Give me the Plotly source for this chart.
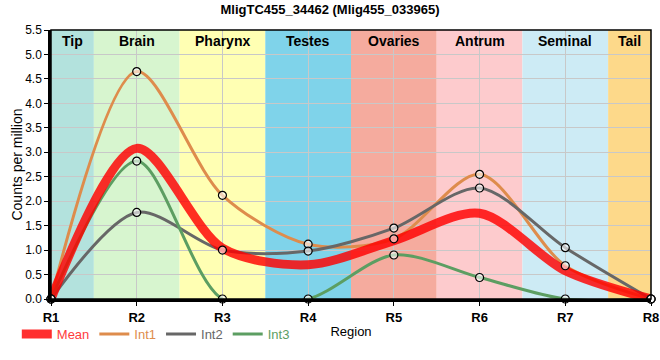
import plotly.graph_objects as go

regions = ["R1", "R2", "R3", "R4", "R5", "R6", "R7", "R8"]
int1 = [0, 4.65, 2.12, 1.12, 1.23, 2.55, 0.68, 0]
int2 = [0, 1.77, 1.00, 0.98, 1.45, 2.27, 1.05, 0]
int3 = [0, 2.82, 0, 0, 0.90, 0.44, 0, 0]
mean = [round((a + b + c) / 3, 3) for a, b, c in zip(int1, int2, int3)]

tissues = ["Tip", "Brain", "Pharynx", "Testes", "Ovaries", "Antrum", "Seminal", "Tail"]
tissue_start = [0, 0.5, 1.5, 2.5, 3.5, 4.5, 5.5, 6.5]
tissue_end = [0.5, 1.5, 2.5, 3.5, 4.5, 5.5, 6.5, 7]
tissue_colors = ["#b3e2dd", "#d7f5cf", "#ffffb3", "#7fd3ea", "#f5ab9e",
                 "#fdcbcd", "#cdebf5", "#fdd98a"]

FONT = "Liberation Sans, Arial, sans-serif"
c_mean = "rgba(255,0,0,0.82)"
c1 = "#de8c4c"
c2 = "#676767"
c3 = "#5c9e62"
SMOOTH = 0.85

fig = go.Figure()
series = [("Int1", int1, c1, 2), ("Int2", int2, c2, 3), ("Int3", int3, c3, 4)]
for name, ys, col, rank in series:
    fig.add_trace(go.Scatter(
        x=regions, y=ys, mode="lines",
        line=dict(color=col, width=3, shape="spline", smoothing=SMOOTH),
        name=f'<span style="color:{col}">{name}</span>', legendrank=rank))
fig.add_trace(go.Scatter(
    x=regions, y=mean, mode="lines",
    line=dict(color=c_mean, width=9, shape="spline", smoothing=SMOOTH),
    name='<span style="color:#ff3c3c">Mean</span>', legendrank=1))
for name, ys, col, rank in series:
    fig.add_trace(go.Scatter(
        x=regions, y=ys, mode="markers", showlegend=False,
        marker=dict(symbol="circle", size=8, color="rgba(255,255,255,0.6)",
                    line=dict(color="black", width=1.2)),
        cliponaxis=False))

shapes = []
annotations = []
for t, s, e, col in zip(tissues, tissue_start, tissue_end, tissue_colors):
    shapes.append(dict(type="rect", xref="x", yref="paper", x0=s, x1=e, y0=0, y1=1,
                       fillcolor=col, line=dict(width=0), layer="below"))
    annotations.append(dict(x=(s + e) / 2, xref="x", y=1, yref="paper",
                            yanchor="top", yshift=-1, showarrow=False,
                            text=f"<b>{t}</b>",
                            font=dict(family=FONT, size=14, color="black")))
shapes.append(dict(type="rect", xref="paper", yref="paper", x0=0, x1=1, y0=0, y1=1,
                   line=dict(color="black", width=1.5), layer="above"))

fig.update_layout(
    width=660, height=360,
    margin=dict(l=51, r=9, t=30, b=61, autoexpand=False),
    paper_bgcolor="white", plot_bgcolor="white",
    title=dict(text="<b>MligTC455_34462 (Mlig455_033965)</b>", x=0.5, xanchor="center",
               y=0.975, yanchor="middle", font=dict(family=FONT, size=13, color="black")),
    font=dict(family=FONT, color="black"),
    shapes=shapes, annotations=annotations,
    showlegend=True,
    legend=dict(orientation="h", x=-0.057, xanchor="left", y=-0.075, yanchor="top",
                font=dict(family=FONT, size=13), bgcolor="rgba(0,0,0,0)",
                itemwidth=30, tracegroupgap=0),
    xaxis=dict(type="category", range=[0, 7], showgrid=True, gridcolor="#c8c8c8",
               gridwidth=1, showline=True, linecolor="black", linewidth=3,
               ticks="outside", ticklen=4, tickcolor="black", automargin=False,
               tickvals=regions, ticktext=[f"<b>{r}</b>" for r in regions],
               tickfont=dict(family=FONT, size=13, color="black"),
               title=dict(text="Region", standoff=4,
                          font=dict(family=FONT, size=13, color="black")),
               zeroline=False),
    yaxis=dict(range=[0, 5.5], dtick=0.5, tickformat=".1f", showgrid=True,
               gridcolor="#c8c8c8", gridwidth=1, showline=True, linecolor="black",
               linewidth=2.5, ticks="outside", ticklen=4, tickcolor="black",
               automargin=False,
               tickfont=dict(family=FONT, size=12, color="black"),
               title=dict(text="Counts per million", standoff=0,
                          font=dict(family=FONT, size=14, color="black")),
               zeroline=False),
)

fig.write_html("out.html", config={"displayModeBar": False},
               post_script="document.body.style.margin='0px';document.body.style.overflow='hidden';")
